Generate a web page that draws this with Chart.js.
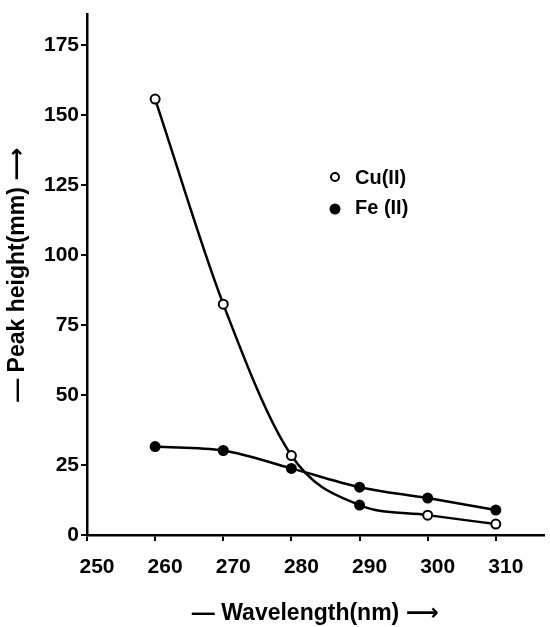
<!DOCTYPE html>
<html>
<head>
<meta charset="utf-8">
<script src="https://cdn.jsdelivr.net/npm/chart.js@4.4.0/dist/chart.umd.min.js"></script>
<style>
body { margin: 0; background: #fff; }
#wrap { width: 550px; height: 627px; }
</style>
</head>
<body>
<div id="wrap"><canvas id="c"></canvas></div>
<script>
// values
var wavelengths = [260, 270, 280, 290, 300, 310];
var cuPeak = [155.8, 82.5, 28.4, 10.7, 7.1, 3.9];
var fePeak = [31.6, 30.2, 23.8, 17.1, 13.2, 8.9];
var xTicks = [250, 260, 270, 280, 290, 300, 310];
var yTicks = [0, 25, 50, 75, 100, 125, 150, 175];
var seriesNames = ['Cu(II)', 'Fe (II)'];

Chart.defaults.font.family = "'Liberation Sans', 'DejaVu Sans', Arial, sans-serif";
Chart.defaults.font.weight = 'bold';
Chart.defaults.color = '#000';

function toPoints(ys) {
    return wavelengths.map(function (x, i) { return {x: x, y: ys[i]}; });
}

// the Cu(II) point at 290 is printed filled in the original
var cuFill = wavelengths.map(function (w) { return w === 290 ? '#000' : '#fff'; });

// hand drawn legend inside the plot, like the original
var innerLegend = {
    id: 'innerLegend',
    afterDraw: function (chart) {
        var ctx = chart.ctx;
        ctx.save();
        ctx.font = "bold 20px 'Liberation Sans', Arial, sans-serif";
        ctx.textBaseline = 'middle';
        ctx.fillStyle = '#000';
        ctx.strokeStyle = '#000';
        ctx.lineWidth = 2;
        ctx.beginPath();
        ctx.arc(335, 177, 4, 0, Math.PI * 2);
        ctx.stroke();
        ctx.fillText(seriesNames[0], 355, 178);
        ctx.beginPath();
        ctx.arc(335, 209, 5.5, 0, Math.PI * 2);
        ctx.fill();
        ctx.fillText(seriesNames[1], 355, 208);
        ctx.restore();
    }
};

var chart = new Chart(document.getElementById('c').getContext('2d'), {
    type: 'line',
    data: {
        datasets: [
            {
                label: seriesNames[0],
                data: toPoints(cuPeak),
                borderColor: '#000',
                borderWidth: 2.5,
                cubicInterpolationMode: 'monotone',
                pointRadius: 4.5,
                pointBorderWidth: 2,
                pointBorderColor: '#000',
                pointBackgroundColor: cuFill
            },
            {
                label: seriesNames[1],
                data: toPoints(fePeak),
                borderColor: '#000',
                borderWidth: 2.5,
                cubicInterpolationMode: 'monotone',
                pointRadius: 5.5,
                pointBorderWidth: 0,
                pointBackgroundColor: '#000'
            }
        ]
    },
    options: {
        responsive: true,
        maintainAspectRatio: false,
        animation: false,
        layout: {padding: {top: 12, right: 2, left: 0, bottom: 0}},
        plugins: {legend: {display: false}, tooltip: {enabled: false}},
        scales: {
            x: {
                type: 'linear',
                min: 250,
                max: 317,
                afterBuildTicks: function (s) {
                    s.ticks = xTicks.map(function (v) { return {value: v}; });
                },
                afterFit: function (s) { s.height = 92; },
                grid: {drawOnChartArea: false, tickLength: 6, color: '#000', lineWidth: 2},
                border: {color: '#000', width: 2.5},
                ticks: {font: {size: 21, weight: 'bold'}, padding: 14, labelOffset: 10, maxRotation: 0},
                title: {
                    display: true,
                    text: '\u2014 Wavelength(nm) \u27F6',
                    font: {size: 23, weight: 'bold'},
                    padding: {top: 0, bottom: 0}
                }
            },
            y: {
                type: 'linear',
                min: 0,
                max: 186,
                afterBuildTicks: function (s) {
                    s.ticks = yTicks.map(function (v) { return {value: v}; });
                },
                afterFit: function (s) { s.width = 87; },
                grid: {drawOnChartArea: false, tickLength: 6, color: '#000', lineWidth: 2},
                border: {color: '#000', width: 2.5},
                ticks: {font: {size: 21, weight: 'bold'}, padding: 2},
                title: {
                    display: true,
                    text: '\u2014 Peak height(mm) \u27F6',
                    font: {size: 23, weight: 'bold'},
                    padding: {top: 4, bottom: 0}
                }
            }
        }
    },
    plugins: [innerLegend]
});
</script>
</body>
</html>
